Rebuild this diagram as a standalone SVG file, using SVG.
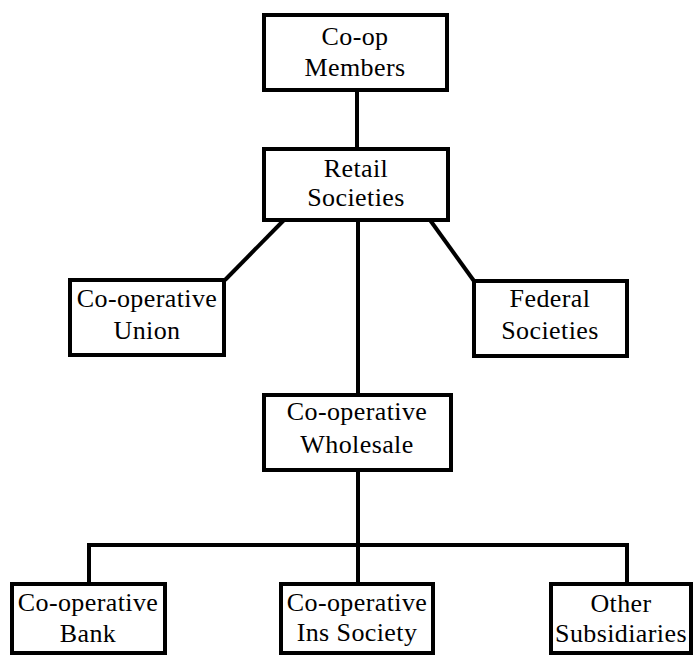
<svg xmlns="http://www.w3.org/2000/svg" width="695" height="658" viewBox="0 0 695 658">
<style>
.box{fill:#fff;stroke:#000;stroke-width:4}
.ln{fill:none;stroke:#000;stroke-width:4}
text{font-family:"Liberation Serif","Times New Roman",serif;font-size:26px;letter-spacing:0.4px;fill:#000;text-anchor:middle}
</style>
<rect width="695" height="658" fill="#fff"/>
<g id="connectors">
<path class="ln" d="M357,90 V149"/>
<path class="ln" d="M284,220 L225,280"/>
<path class="ln" d="M430,220 L474,281"/>
<path class="ln" d="M358,220 V395"/>
<path class="ln" d="M358,470 V584"/>
<path class="ln" d="M89,584 V545 H627 V584"/>
</g>
<g id="members"><rect class="box" x="264" y="15" width="183" height="75"/><text x="355" y="45">Co-op</text><text x="355" y="76">Members</text></g>
<g id="retail"><rect class="box" x="264" y="149" width="184" height="71"/><text x="356" y="177">Retail</text><text x="356" y="206">Societies</text></g>
<g id="union"><rect class="box" x="70" y="280" width="154" height="75"/><text x="147" y="307">Co-operative</text><text x="147" y="339">Union</text></g>
<g id="federal"><rect class="box" x="474" y="281" width="153" height="75"/><text x="550" y="307">Federal</text><text x="550" y="339">Societies</text></g>
<g id="wholesale"><rect class="box" x="264" y="395" width="187" height="75"/><text x="357" y="420">Co-operative</text><text x="357" y="453">Wholesale</text></g>
<g id="bank"><rect class="box" x="12" y="584" width="153" height="69"/><text x="88" y="611">Co-operative</text><text x="88" y="642">Bank</text></g>
<g id="ins"><rect class="box" x="281" y="584" width="152" height="69"/><text x="357" y="611">Co-operative</text><text x="357" y="641">Ins Society</text></g>
<g id="other"><rect class="box" x="551" y="584" width="140" height="69"/><text x="621" y="612">Other</text><text x="621" y="642">Subsidiaries</text></g>
</svg>
